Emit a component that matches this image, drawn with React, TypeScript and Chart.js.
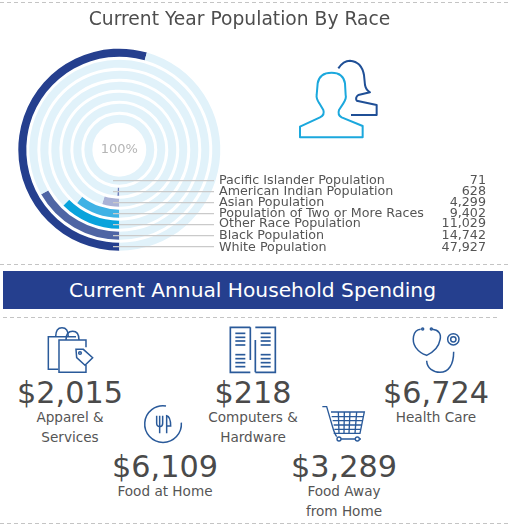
import React, { useEffect, useRef } from "react";
import { Chart, registerables } from "chart.js";

Chart.register(...registerables);

const raceLabels = [
  "Pacific Islander Population",
  "American Indian Population",
  "Asian Population",
  "Population of Two or More Races",
  "Other Race Population",
  "Black Population",
  "White Population",
];
const raceValues = [71, 628, 4299, 9402, 11029, 14742, 47927];
const raceColors = ["#8f9ccb", "#6f80bd", "#a9b2d6", "#3fb2e5", "#09a3dc", "#4f65a4", "#253f8e"];
const trackColor = "#e1f2fa";

const FONT = '"DejaVu Sans", Verdana, sans-serif';
const TEXT = "#555555";

const spendItems = [
  { value: "$2,015", lines: ["Apparel &", "Services"], x: 70, y: 378 },
  { value: "$218", lines: ["Computers &", "Hardware"], x: 253, y: 378 },
  { value: "$6,724", lines: ["Health Care"], x: 436, y: 378 },
  { value: "$6,109", lines: ["Food at Home"], x: 165, y: 452 },
  { value: "$3,289", lines: ["Food Away", "from Home"], x: 344, y: 452 },
];

const dashLines = [
  { y: 2, x1: 0, x2: 508 },
  { y: 264, x1: 0, x2: 508 },
  { y: 317, x1: 3, x2: 500 },
  { y: 523, x1: 0, x2: 508 },
];

const labelNudge = [0.5, 0.5, 0.5, 0.5, -0.5, 0.5, 0.5];

const leaderPlugin = {
  id: "leaders",
  afterDatasetsDraw(chart: any) {
    const { ctx } = chart;
    const total = raceLabels.length;
    ctx.save();
    raceLabels.forEach((label, i) => {
      const datasetIndex = (total - 1 - i) * 2;
      const arc = chart.getDatasetMeta(datasetIndex).data[0] as any;
      const mid = (arc.innerRadius + arc.outerRadius) / 2;
      const y = arc.y + mid;
      ctx.strokeStyle = "#cacaca";
      ctx.lineWidth = 1.3;
      ctx.beginPath();
      ctx.moveTo(113, y);
      ctx.lineTo(214, y);
      ctx.stroke();
      ctx.fillStyle = TEXT;
      ctx.font = `12.7px ${FONT}`;
      ctx.textBaseline = "middle";
      ctx.textAlign = "left";
      ctx.fillText(label, 219, y + labelNudge[i]);
      ctx.textAlign = "right";
      ctx.fillText(raceValues[i].toLocaleString("en-US"), 486, y + labelNudge[i]);
    });
    const first = chart.getDatasetMeta(0).data[0] as any;
    ctx.fillStyle = "#b5b5b5";
    ctx.font = `13px ${FONT}`;
    ctx.textAlign = "center";
    ctx.textBaseline = "middle";
    ctx.fillText("100%", first.x, first.y);
    ctx.restore();
  },
};

function Icons() {
  const dark = "#2a5a9a";
  return (
    <svg width={508} height={524} style={{ position: "absolute", left: 0, top: 0 }} fill="none">
      {dashLines.map((d) => (
        <line key={d.y} x1={d.x1} x2={d.x2} y1={d.y + 0.5} y2={d.y + 0.5} stroke="#c4c4c4" strokeDasharray="4 3" />
      ))}
      <rect x={3} y={271} width={500} height={38} fill="#253f8e" />
      {/* people */}
      <g transform="translate(280,40) scale(0.3333)" strokeWidth={6}>
        <path
          stroke="#1ba8dd"
          strokeLinejoin="round"
          d="M60 292 L60 260 L120 232 Q135 225 130 210 L118 190 Q108 175 110 165 L113 130 Q118 98 155 98 Q190 98 195 130 L197 165 Q200 175 190 190 L177 210 Q172 225 185 232 L248 258 L248 292 Z"
        />
        <path
          stroke="#1f4f96"
          strokeLinejoin="round"
          d="M175 85 Q190 62 210 62 Q245 65 252 105 L255 135 Q258 150 270 157 L235 165 Q225 172 230 182 L290 195 L290 225 L213 225"
        />
      </g>
      {/* bags */}
      <g transform="translate(0,260) scale(0.3333)" stroke={dark} strokeWidth={4.5}>
        <path d="M175 328 H145 V230 H228" />
        <path d="M258 262 V240 H177 V337 H258 V315" />
        <path d="M167 230 Q167 203 186 203 Q205 203 205 230" />
        <path d="M198 240 Q198 214 218 214 Q237 214 237 240" />
        <path d="M228 268 L250 268 L278 293 L255 316 L230 293 Z" />
        <circle cx={240} cy={279} r={4} />
      </g>
      {/* food */}
      <g transform="translate(140,400) scale(0.3333)" stroke={dark} strokeWidth={4.5}>
        <path d="M124 68 A55 55 0 1 1 78 18" />
        <path d="M50 47 V70 Q50 80 60 80 Q68 80 68 70 V47 M59 47 V100" />
        <path d="M80 100 V47 Q92 50 92 78 H80" />
      </g>
      {/* computers */}
      <g transform="translate(222,320) scale(0.3333)" stroke={dark} strokeWidth={5}>
        <path d="M85 22 H25 V157 H85 M85 22 V120" />
        <path d="M100 22 H160 V157 H100 M100 60 V157" />
        {[40, 52, 63, 75, 104, 116, 128, 140].map((y) => (
          <g key={y}>
            <line x1={40} x2={70} y1={y} y2={y} />
            <line x1={116} x2={146} y1={y} y2={y} />
          </g>
        ))}
      </g>
      {/* cart */}
      <g transform="translate(315,400) scale(0.3333)" stroke={dark} strokeWidth={4}>
        <path d="M22 20 H35 L52 78 Q58 100 65 110" />
        <path d="M48 36 H148 L135 100 H56 M50 50 H146 M53 62 H143 M56 75 H140 M58 88 H138" />
        <path d="M70 36 L72 100 M88 36 L87 100 M105 36 L102 100 M125 36 L120 100" />
        <circle cx={72} cy={117} r={6} />
        <circle cx={127} cy={117} r={6} />
        <path d="M78 117 H121 M134 117 H138" />
      </g>
      {/* stethoscope */}
      <g transform="translate(405,320) scale(0.3333)" stroke={dark} strokeWidth={4.5}>
        <path d="M47 28 C22 30 20 65 32 82 Q45 100 65 106 Q100 90 105 60 C110 40 100 30 82 28" />
        <circle cx={53} cy={27} r={3} />
        <circle cx={79} cy={27} r={3} />
        <path d="M65 122 C66 145 85 157 105 157 C130 157 146 135 146 95" />
        <circle cx={145} cy={58} r={17} />
        <circle cx={145} cy={58} r={8} />
      </g>
    </svg>
  );
}

export default function App() {
  const ref = useRef<HTMLCanvasElement>(null);
  useEffect(() => {
    const total = raceValues.reduce((a, b) => a + b, 0);
    const datasets: any[] = [];
    const count = raceLabels.length;
    for (let i = count - 1; i >= 0; i--) {
      datasets.push({
        label: raceLabels[i],
        data: [raceValues[i], total - raceValues[i]],
        backgroundColor: [raceColors[i], trackColor],
        borderWidth: 0,
        weight: 8,
      });
      if (i > 0) {
        datasets.push({
          label: "gap",
          data: [1],
          backgroundColor: "rgba(0,0,0,0)",
          borderWidth: 0,
          weight: 3,
        });
      }
    }
    const chart = new Chart(ref.current as HTMLCanvasElement, {
      type: "doughnut",
      data: { labels: ["Population", "Rest"], datasets },
      options: {
        animation: false,
        responsive: false,
        rotation: 180,
        circumference: 360,
        cutout: "26.7%",
        layout: { padding: { left: 18.3, right: 287.7, top: 48.7, bottom: 9.3 } },
        plugins: { legend: { display: false }, tooltip: { enabled: false }, title: { display: false } },
      } as any,
      plugins: [leaderPlugin as any],
    });
    return () => chart.destroy();
  }, []);

  const base: React.CSSProperties = {
    position: "absolute",
    fontFamily: FONT,
    color: TEXT,
    whiteSpace: "nowrap",
    textAlign: "center",
  };

  return (
    <div style={{ position: "absolute", left: 0, top: 0, width: 508, height: 524, overflow: "hidden", background: "#fff" }}>
      <Icons />
      <canvas ref={ref} width={508} height={260} style={{ position: "absolute", left: 0, top: 0 }} />
      <div style={{ ...base, left: 0, width: 479, top: 6, fontSize: 18.7, lineHeight: "26px", color: "#4d4d4d" }}>
        Current Year Population By Race
      </div>
      <div style={{ ...base, left: 2, width: 501, top: 271, fontSize: 20.2, lineHeight: "38px", color: "#fff" }}>
        Current Annual Household Spending
      </div>
      {spendItems.map((s) => (
        <div key={s.value} style={{ ...base, left: s.x - 100, width: 200, top: s.y }}>
          <div style={{ fontSize: 30.3, lineHeight: "30px", color: "#4a4a4a" }}>{s.value}</div>
          {s.lines.map((l) => (
            <div key={l} style={{ fontSize: 13.6, lineHeight: "20px", color: TEXT, position: "relative", top: -1 }}>
              {l}
            </div>
          ))}
        </div>
      ))}
    </div>
  );
}
